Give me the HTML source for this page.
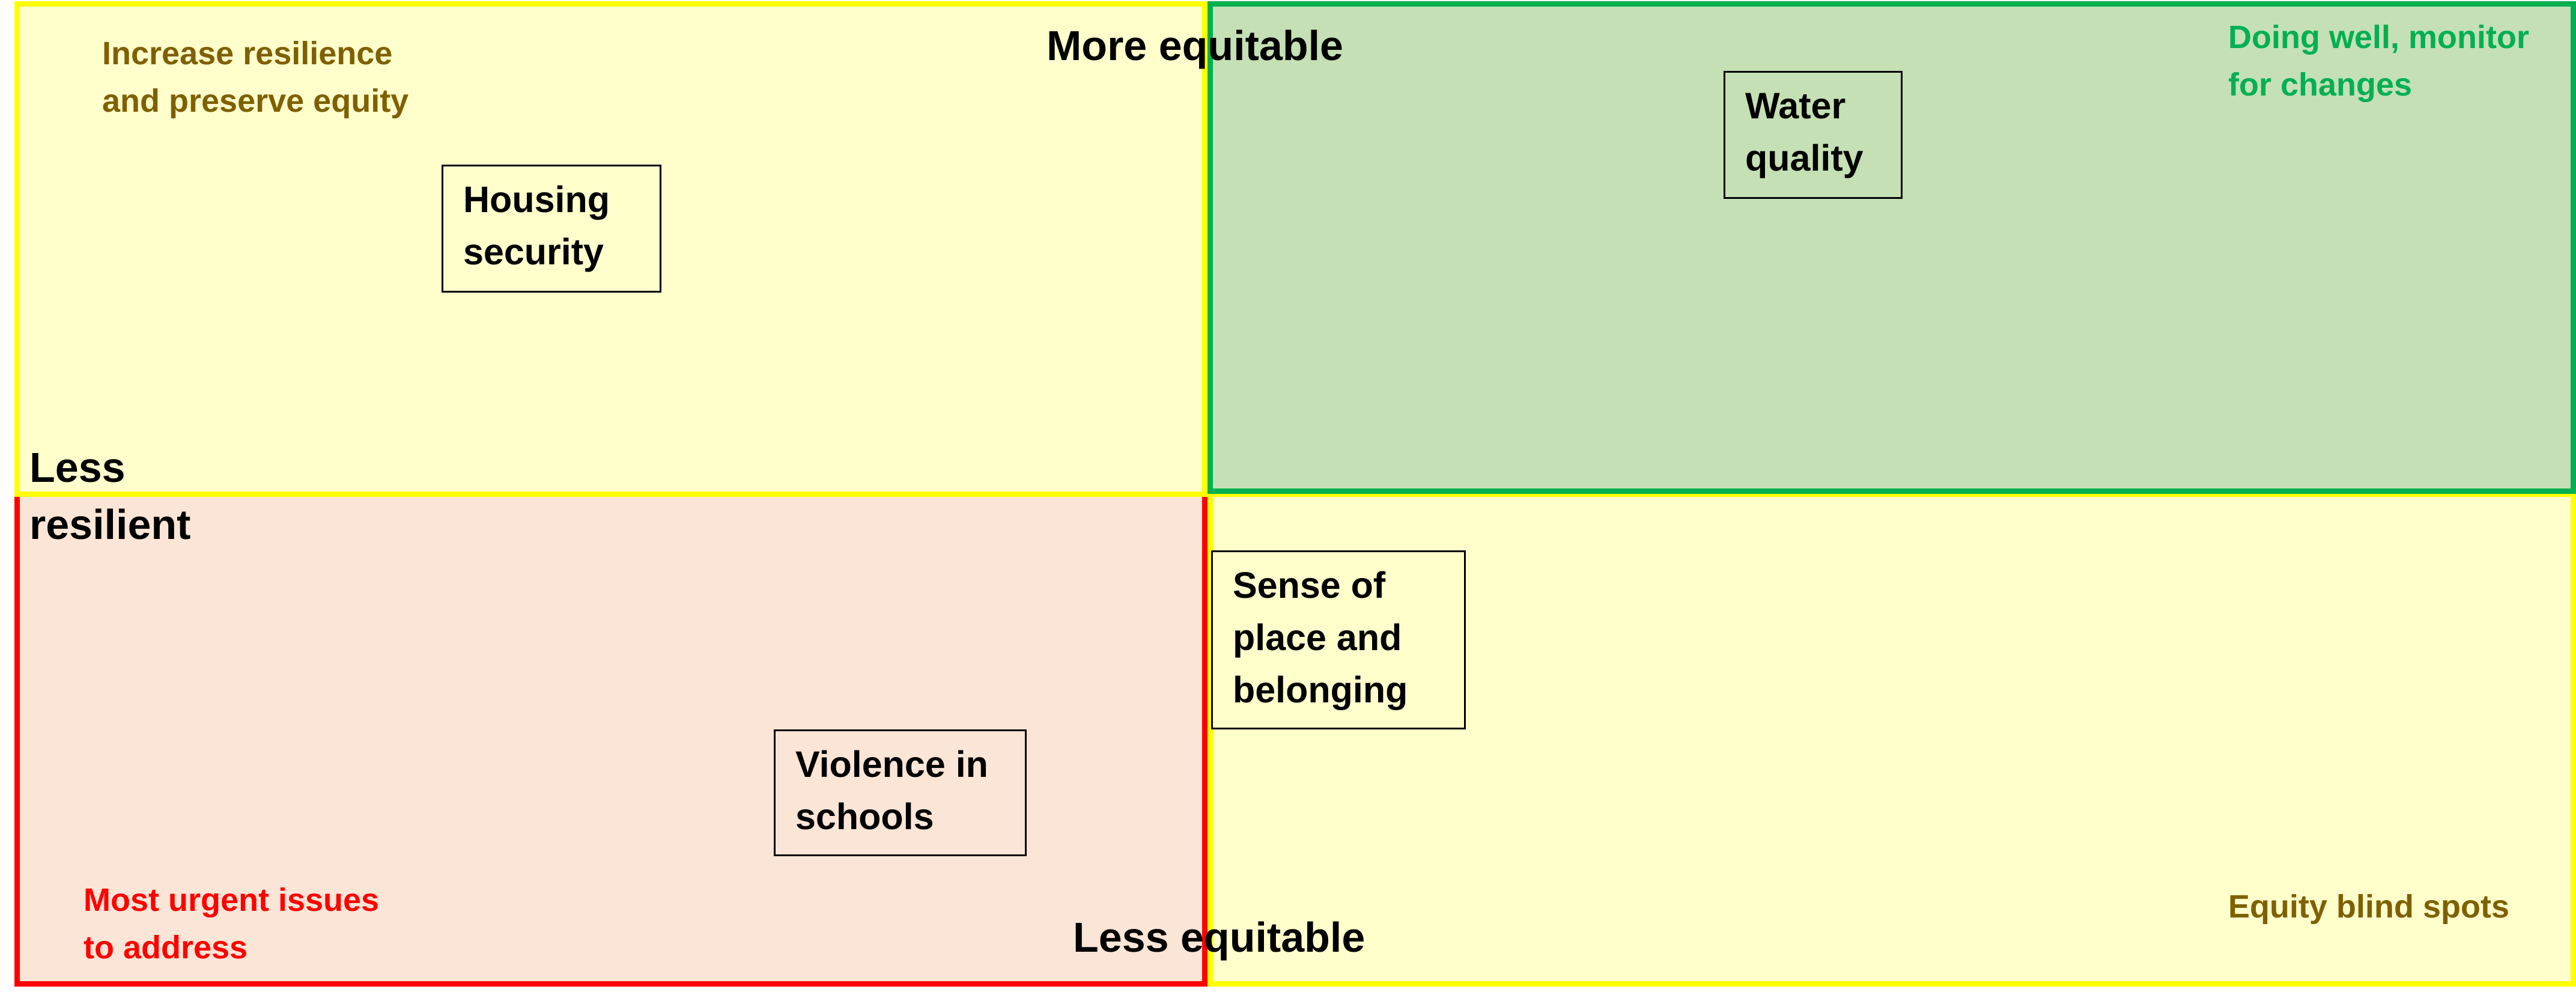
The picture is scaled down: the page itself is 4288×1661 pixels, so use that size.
<!DOCTYPE html>
<html><head><meta charset="utf-8">
<style>
html,body{margin:0;padding:0;background:#fff;}
body{width:4288px;height:1661px;position:relative;overflow:hidden;font-family:"Liberation Sans",Arial,sans-serif;font-weight:bold;}
.q{position:absolute;box-sizing:border-box;border-width:9px;border-style:solid;}
.t{position:absolute;white-space:nowrap;}
.box{position:absolute;box-sizing:border-box;border:3px solid #000;font-size:61px;line-height:87px;padding:12px 0 0 33px;color:#000;}
.lab{font-size:54px;line-height:79px;}
.ax{font-size:70px;color:#000;}
</style></head>
<body>
<div class="q" style="left:24px;top:818px;width:1986px;height:824px;background:#FBE5D6;border-color:#FF0000;"></div>
<div class="q" style="left:2010px;top:818px;width:2278px;height:824px;background:#FFFFCC;border-color:#FFFF00;"></div>
<div class="q" style="left:24px;top:2px;width:1986px;height:825px;background:#FFFFCC;border-color:#FFFF00;"></div>
<div class="q" style="left:2010px;top:2px;width:2278px;height:820px;background:#C5E0B4;border-color:#00B050;"></div>

<div class="t ax" style="left:1742px;top:36px;">More equitable</div>
<div class="t ax" style="left:1786px;top:1520px;">Less equitable</div>
<div class="t ax" style="left:49px;top:731px;line-height:95px;">Less<br>resilient</div>

<div class="t lab" style="left:170px;top:50px;color:#7F6000;">Increase resilience<br>and preserve equity</div>
<div class="t lab" style="left:3709px;top:23px;color:#00B050;">Doing well, monitor<br>for changes</div>
<div class="t lab" style="left:139px;top:1459px;color:#FF0000;">Most urgent issues<br>to address</div>
<div class="t lab" style="left:3709px;top:1470px;color:#7F6000;">Equity blind spots</div>

<div class="box" style="left:735px;top:274px;width:366px;height:213px;">Housing<br>security</div>
<div class="box" style="left:2869px;top:118px;width:298px;height:213px;">Water<br>quality</div>
<div class="box" style="left:2016px;top:916px;width:424px;height:298px;">Sense of<br>place and<br>belonging</div>
<div class="box" style="left:1288px;top:1214px;width:421px;height:211px;">Violence in<br>schools</div>
</body></html>
